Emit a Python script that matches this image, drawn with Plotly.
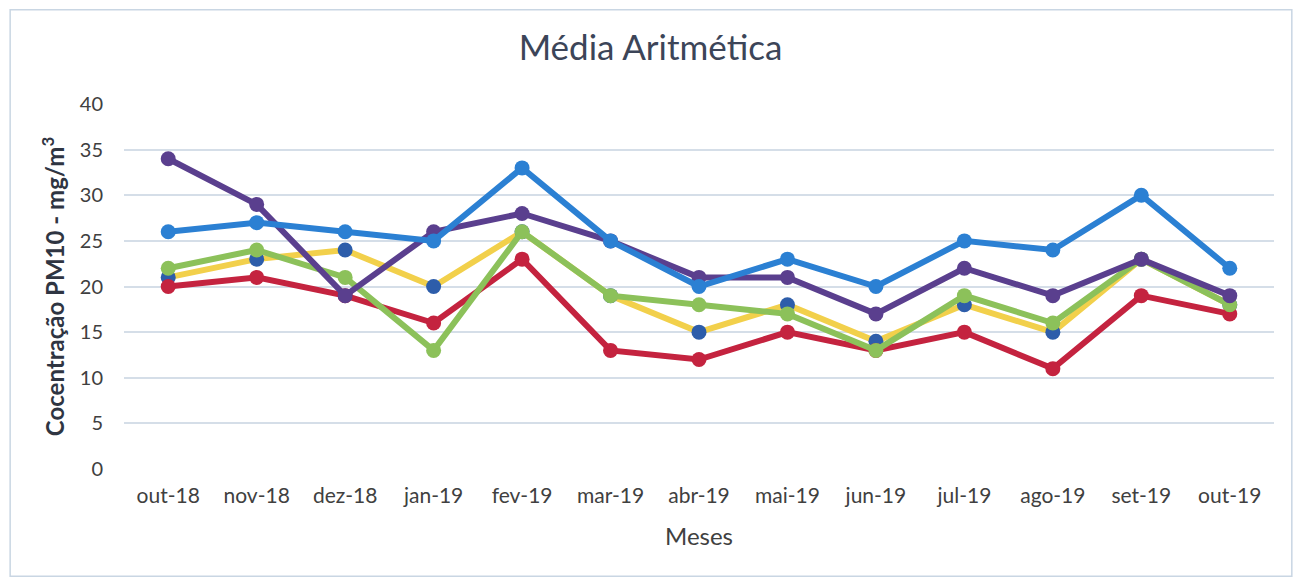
import plotly.graph_objects as go

meses = ["out-18", "nov-18", "dez-18", "jan-19", "fev-19", "mar-19", "abr-19",
         "mai-19", "jun-19", "jul-19", "ago-19", "set-19", "out-19"]

serie_amarela = [21, 23, 24, 20, 26, 19, 15, 18, 14, 18, 15, 23, 18]
serie_vermelha = [20, 21, 19, 16, 23, 13, 12, 15, 13, 15, 11, 19, 17]
serie_verde = [22, 24, 21, 13, 26, 19, 18, 17, 13, 19, 16, 23, 18]
serie_roxa = [34, 29, 19, 26, 28, 25, 21, 21, 17, 22, 19, 23, 19]
serie_azul = [26, 27, 26, 25, 33, 25, 20, 23, 20, 25, 24, 30, 22]

y_ticks = [0, 5, 10, 15, 20, 25, 30, 35, 40]

FONT = "Lato, 'Open Sans', sans-serif"

series = [
    ("Ponto 1", serie_amarela, "#F2D04B", "#2D5DAA"),
    ("Ponto 2", serie_vermelha, "#C4233F", "#C4233F"),
    ("Ponto 3", serie_verde, "#8CC15A", "#8CC15A"),
    ("Ponto 4", serie_roxa, "#5A3F8E", "#5A3F8E"),
    ("Ponto 5", serie_azul, "#2B80D3", "#2B80D3"),
]

fig = go.Figure()
for name, vals, lc, mc in series:
    fig.add_trace(go.Scatter(
        x=meses, y=vals, name=name, mode="lines+markers",
        line=dict(color=lc, width=6),
        marker=dict(color=mc, size=15),
    ))

fig.update_layout(
    width=1285, height=570,
    paper_bgcolor="white", plot_bgcolor="white",
    margin=dict(l=116, r=19, t=96, b=109, autoexpand=False),
    showlegend=False,
    font=dict(family=FONT, color="#404040", size=20),
    title=dict(text="Média Aritmética", x=0.5, xanchor="center", y=0.93, yanchor="middle",
               font=dict(family=FONT, size=35, color="#3C4558")),
    xaxis=dict(
        type="category", range=[-0.5, 12.5], showgrid=False, zeroline=False, showline=False,
        automargin=False, ticks="", ticklabelstandoff=12,
        tickfont=dict(size=21, color="#404040"),
        title=dict(text="Meses", font=dict(size=24, color="#404040"), standoff=22),
    ),
    yaxis=dict(
        range=[0, 40], tickvals=y_ticks, showgrid=True, gridcolor="#D5DEE8", gridwidth=1.5,
        zeroline=False, showline=False, ticks="", ticklabelstandoff=20, automargin=False,
        tickfont=dict(size=20, color="#404040"),
        title=dict(text="<b>Cocentração PM10 - mg/m<sup>3</sup></b>",
                   font=dict(size=24, color="#2F3542"), standoff=8),
    ),
)

fig.add_shape(type="rect", xref="paper", yref="paper",
              x0=-0.099, x1=1.0155, y0=-0.294, y1=1.258,
              line=dict(color="#C9D6E3", width=1.5))

fig.write_html("out.html")
